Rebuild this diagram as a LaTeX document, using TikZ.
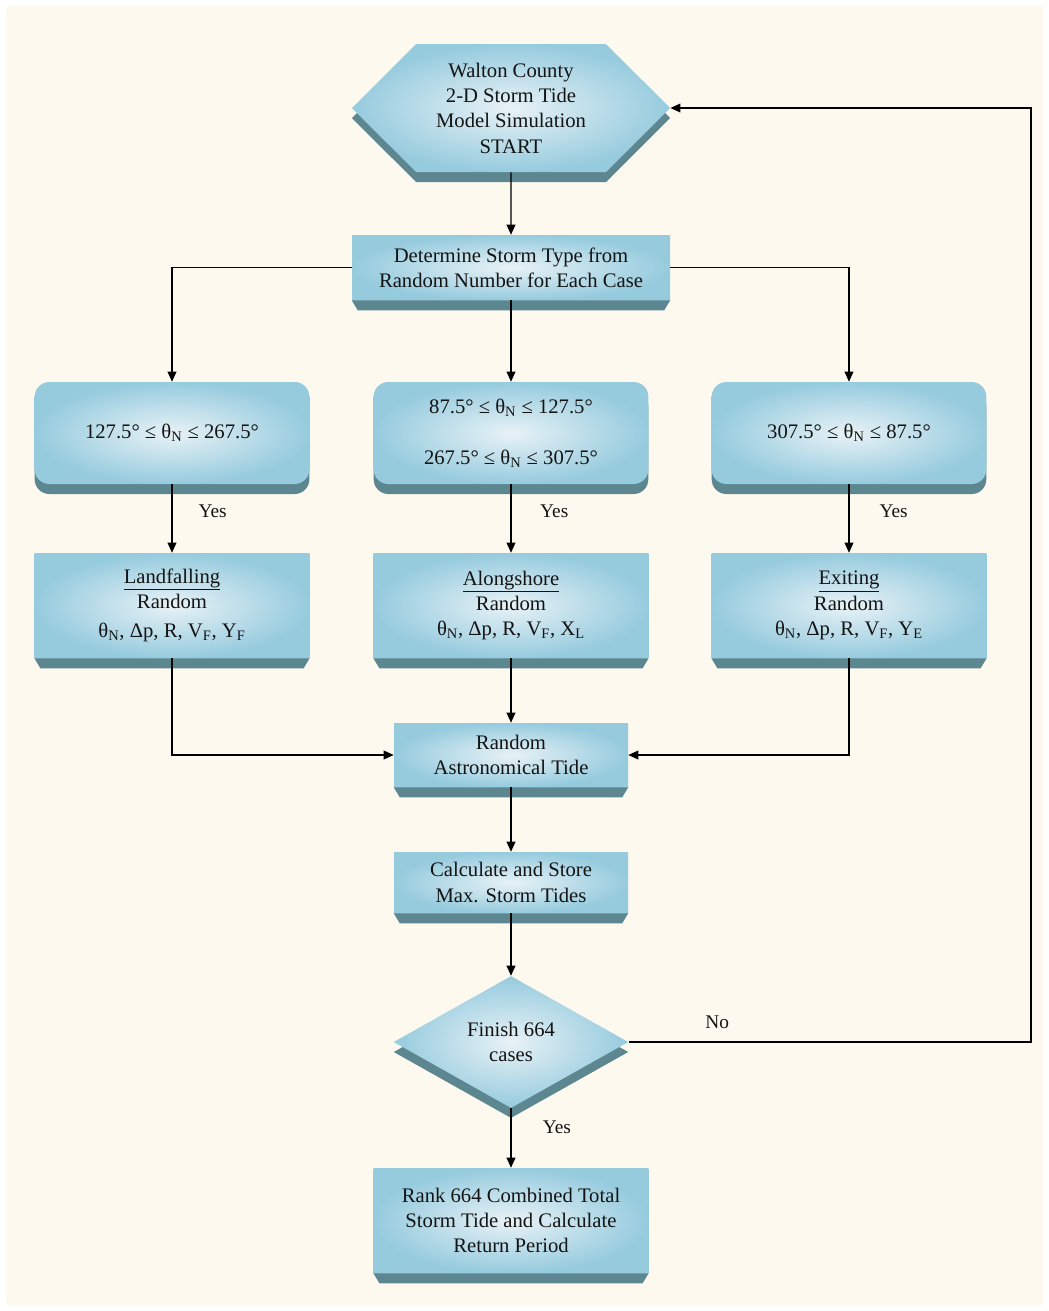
\documentclass[tikz,border=0pt]{standalone}
\usepackage{fontspec}
\setmainfont{Liberation Serif}
\usetikzlibrary{shapes.geometric, shapes.symbols, shadows, arrows.meta}

\definecolor{paper}{RGB}{253,249,238}
\definecolor{facelight}{RGB}{232,242,246}
\definecolor{facedark}{RGB}{150,203,222}
\definecolor{rim}{RGB}{92,134,144}
\definecolor{ink}{RGB}{20,20,20}

\tikzset{
    facefill/.style = {shade, inner color=facelight, outer color=facedark, align=center, text=ink, font=\fontsize{15.5}{19}\selectfont, inner sep=2pt},
    lift/.style = {drop shadow={shadow xshift=0pt, shadow yshift=-7.5pt, opacity=1, fill=rim}},
    startstop/.style = {facefill, lift, signal, signal to=west and east, signal pointer angle=90, minimum width=238.5pt, minimum height=96pt},
    process/.style = {facefill, rectangle},
    rangebox/.style = {facefill, lift, rectangle, rounded corners=11pt, minimum width=206pt, minimum height=76.5pt},
    decision/.style = {facefill, lift, diamond, aspect=1.8, inner sep=1pt, minimum width=176pt, minimum height=99pt},
    arrow/.style = {line width=1.1pt, ->, >={Triangle[length=7.5pt, width=6.5pt]}},
    lbl/.style = {font=\fontsize{14.5}{17}\selectfont, text=ink}
}

\begin{document}
\begin{tikzpicture}[x=0.75pt, y=-0.75pt]
\useasboundingbox (0,0) rectangle (1049,1311);
\fill[white] (0,0) rectangle (1049,1311);
\fill[paper] (6,6) rectangle (1043,1305);

\node (start) [startstop] at (511,108) {Walton County\\2-D Storm Tide\\Model Simulation\\START};
\node (det) [process, minimum width=238.5pt, minimum height=48.75pt] at (511,267.5) {Determine Storm Type from\\Random Number for Each Case};

\node (cond1) [rangebox] at (172,433) {127.5° ≤ θ\textsubscript{N} ≤ 267.5°};
\node (cond2) [rangebox] at (511,433) {87.5° ≤ θ\textsubscript{N} ≤ 127.5°\\[19pt]267.5° ≤ θ\textsubscript{N} ≤ 307.5°};
\node (cond3) [rangebox] at (849,433) {307.5° ≤ θ\textsubscript{N} ≤ 87.5°};

\node (land) [process, minimum width=206pt, minimum height=78.75pt] at (172,605.5) {\underline{Landfalling}\\Random\\[3pt]θ\textsubscript{N}, Δp, R, V\textsubscript{F}, Y\textsubscript{F}};
\node (along) [process, minimum width=206pt, minimum height=78.75pt] at (511,605.5) {\underline{Alongshore}\\Random\\θ\textsubscript{N}, Δp, R, V\textsubscript{F}, X\textsubscript{L}};
\node (exit) [process, minimum width=206pt, minimum height=78.75pt] at (849,605.5) {\underline{Exiting}\\Random\\θ\textsubscript{N}, Δp, R, V\textsubscript{F}, Y\textsubscript{E}};

\node (tide) [process, minimum width=175.5pt, minimum height=48pt] at (511,755) {Random\\Astronomical Tide};
\node (calc) [process, minimum width=175.5pt, minimum height=45.75pt] at (511,882.5) {Calculate and Store\\Max. Storm Tides};
\node (finish) [decision] at (511,1042) {Finish 664\\cases};
\node (rank) [process, minimum width=206pt, minimum height=78.75pt] at (511,1220.5) {Rank 664 Combined Total\\Storm Tide and Calculate\\Return Period};

% bevelled rims under the boxes
\foreach \n in {det, land, along, exit, tide, calc, rank}
    \fill[rim] (\n.south west) -- (\n.south east) -- ([shift={(-6,10)}]\n.south east) -- ([shift={(6,10)}]\n.south west) -- cycle;

\coordinate (back) at (1031,105);

\draw [arrow] (start) -- (det);
\draw [arrow] (det.west) -| (cond1);
\draw [arrow] (det) -- (cond2);
\draw [arrow] (det.east) -| (cond3);
\draw [arrow] (cond1) -- node[lbl, right=16pt, pos=.4] (yes1) {Yes} (land);
\draw [arrow] (cond2) -- node[lbl, right=18pt, pos=.4] (yes2) {Yes} (along);
\draw [arrow] (cond3) -- node[lbl, right=19pt, pos=.4] (yes3) {Yes} (exit);
\draw [arrow] (land) |- (tide);
\draw [arrow] (along) -- (tide);
\draw [arrow] (exit) |- (tide);
\draw [arrow] (tide) -- (calc);
\draw [arrow] (calc) -- (finish);
\draw [arrow] (finish) -- node[lbl, right=20pt, pos=.32] (yes4) {Yes} (rank);
\draw [arrow] (finish.east) -- node[lbl, above=6pt, pos=.22] (no) {No} (finish.east -| back) |- (start.east);
\end{tikzpicture}
\end{document}
